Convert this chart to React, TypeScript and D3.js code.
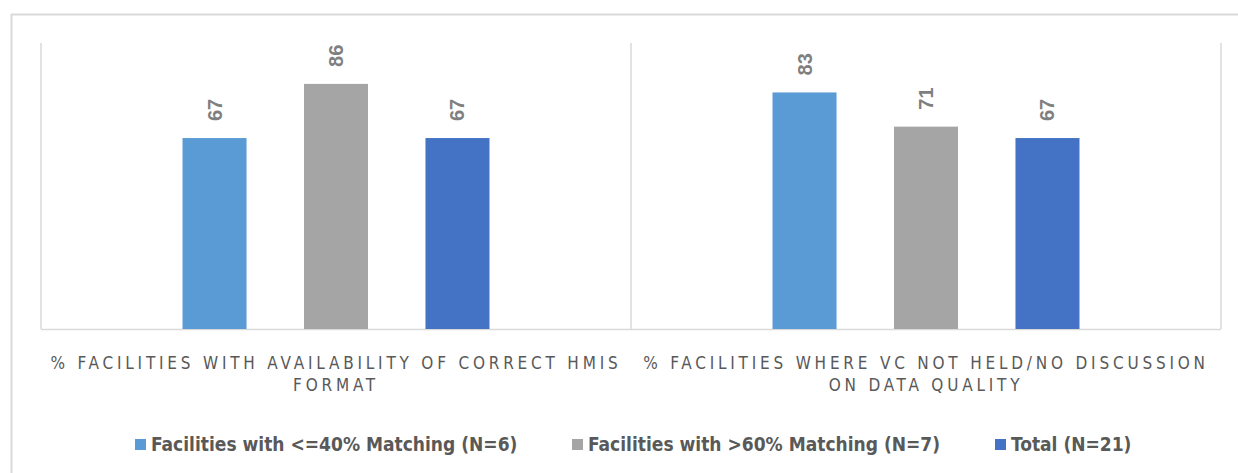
import React from "react";
import * as d3 from "d3";

const categories = [
  ["% FACILITIES WITH AVAILABILITY OF CORRECT HMIS", "FORMAT"],
  ["% FACILITIES WHERE VC NOT HELD/NO DISCUSSION", "ON DATA QUALITY"],
];
const seriesNames = [
  "Facilities with <=40% Matching (N=6)",
  "Facilities with >60% Matching (N=7)",
  "Total (N=21)",
];
const seriesColors = ["#5b9bd5", "#a5a5a5", "#4472c4"];
const values = [
  [67, 86, 67],
  [83, 71, 67],
];
const legendX = [135, 572, 995];

export default function App() {
  const W = 1238, H = 473;
  const left = 41, right = 1221, top = 44, bottom = 329;
  const x0 = d3.scaleBand<number>().domain([0, 1]).range([left, right]).padding(0);
  const x1 = d3
    .scaleBand<number>()
    .domain([0, 1, 2])
    .range([0, x0.bandwidth()])
    .paddingInner(0.473)
    .paddingOuter(1.165);
  const y = d3.scaleLinear().domain([0, 100]).range([bottom, top]);
  const grid = "#d9d9d9";
  return (
    <svg
      width={W}
      height={H}
      style={{ position: "absolute", left: 0, top: 0, background: "#fff" }}
    >
      <rect x={0} y={0} width={W} height={H} fill="#fff" />
      {/* outer frame */}
      <line x1={11.5} y1={14} x2={11.5} y2={H} stroke={grid} strokeWidth={2} />
      <line x1={11} y1={14.5} x2={W} y2={14.5} stroke={grid} strokeWidth={2} />
      {/* axes lines */}
      {[0, 1, 2].map((i) => {
        const xx = i < 2 ? x0(i)! : right;
        return <line key={i} x1={xx} y1={y(100) - 1} x2={xx} y2={bottom} stroke={grid} strokeWidth={1.5} />;
      })}
      <line x1={left} y1={bottom + 0.5} x2={right} y2={bottom + 0.5} stroke={grid} strokeWidth={1.5} />
      {values.map((vals, ci) => (
        <g key={ci} transform={`translate(${x0(ci)},0)`}>
          {vals.map((v, si) => {
            const bx = x1(si)!;
            const bw = x1.bandwidth();
            return (
              <g key={si}>
                <rect x={bx} y={y(v)} width={bw} height={bottom - y(v)} fill={seriesColors[si]} />
                <text
                  transform={`translate(${bx + bw / 2},${y(v) - 17}) rotate(-90)`}
                  dominantBaseline="central"
                  fontFamily="'Liberation Sans', Arial, sans-serif"
                  fontWeight="bold"
                  fontSize={20}
                  fill="#7f7f7f"
                >
                  {v}
                </text>
              </g>
            );
          })}
          {categories[ci].map((line, li) => (
            <text
              key={li}
              x={x0.bandwidth() / 2}
              y={369 + li * 22}
              textAnchor="middle"
              fontFamily="'Liberation Sans Narrow', 'DejaVu Sans Condensed', sans-serif"
              fontSize={17}
              letterSpacing={3.8}
              fill="#595959"
            >
              {line}
            </text>
          ))}
        </g>
      ))}
      {seriesNames.map((name, si) => (
        <g key={si}>
          <rect x={legendX[si]} y={439} width={11} height={11} fill={seriesColors[si]} />
          <text
            x={legendX[si] + 16}
            y={451}
            fontFamily="'DejaVu Sans Condensed', 'DejaVu Sans', sans-serif"
            fontWeight="bold"
            fontSize={19}
            fill="#595959"
          >
            {name}
          </text>
        </g>
      ))}
    </svg>
  );
}
